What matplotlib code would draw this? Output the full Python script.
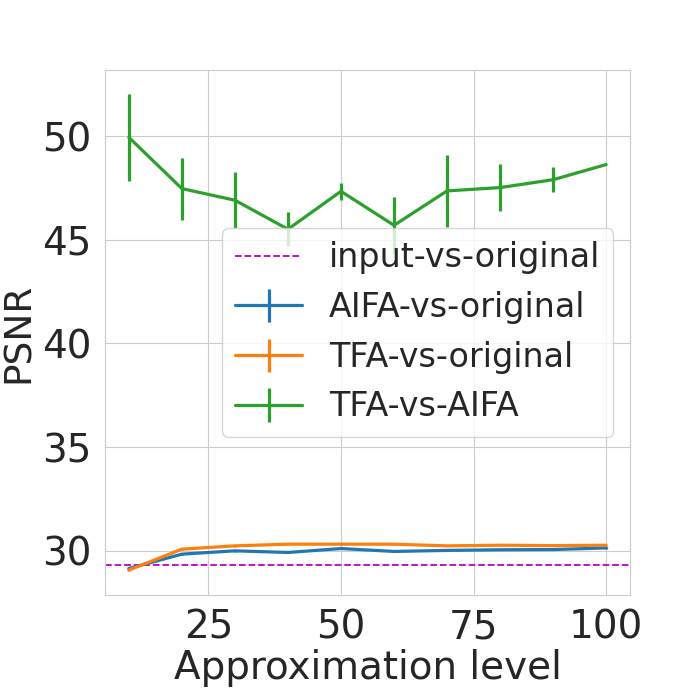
import matplotlib
matplotlib.use("Agg")
import matplotlib.pyplot as plt
import seaborn as sns

# approximation levels
levels = [10, 20, 30, 40, 50, 60, 70, 80, 90, 100]

input_vs_original = 29.32

aifa_mean = [29.15, 29.84, 30.00, 29.92, 30.11, 29.97, 30.02, 30.05, 30.06, 30.14]
aifa_std = [0.05, 0.04, 0.04, 0.04, 0.04, 0.04, 0.04, 0.03, 0.03, 0.03]

tfa_mean = [29.07, 30.08, 30.24, 30.32, 30.32, 30.32, 30.24, 30.27, 30.25, 30.27]
tfa_std = [0.05, 0.04, 0.04, 0.03, 0.03, 0.03, 0.03, 0.03, 0.03, 0.03]

tfa_aifa_mean = [49.94, 47.47, 46.91, 45.51, 47.34, 45.70, 47.36, 47.52, 47.90, 48.63]
tfa_aifa_std = [2.10, 1.50, 1.35, 0.82, 0.42, 1.37, 1.72, 1.14, 0.60, 0.0]

sns.set_style("whitegrid")
plt.rcParams["font.family"] = ["DejaVu Sans"]

fig, ax = plt.subplots(figsize=(7, 7), dpi=100)
fig.subplots_adjust(left=0.15, right=0.9, top=0.9, bottom=0.15)

ax.axhline(input_vs_original, color="m", linestyle="--", linewidth=1.3,
           label="input-vs-original")
ax.errorbar(levels, aifa_mean, yerr=aifa_std, color="#1f77b4", linewidth=2.3,
            label="AIFA-vs-original")
ax.errorbar(levels, tfa_mean, yerr=tfa_std, color="#ff7f0e", linewidth=2.3,
            label="TFA-vs-original")
ax.errorbar(levels, tfa_aifa_mean, yerr=tfa_aifa_std, color="#2ca02c", linewidth=2.3,
            label="TFA-vs-AIFA")

ax.set_xticks([25, 50, 75, 100])
ax.set_yticks([30, 35, 40, 45, 50])

narrow = ["Liberation Sans Narrow", "DejaVu Sans"]
ax.set_xlabel("Approximation level", fontsize=28, color=".15",
              family=narrow, labelpad=2)
ax.set_ylabel("PSNR", fontsize=27, color=".15", labelpad=4)
for lbl in ax.get_xticklabels():
    lbl.set_family(narrow)
ax.tick_params(axis="x", labelsize=28, labelcolor=".15", pad=6)
ax.tick_params(axis="y", labelsize=28, labelcolor=".15", pad=6)

ax.legend(loc="center right", fontsize=24)

plt.savefig("out.png", dpi=100)
